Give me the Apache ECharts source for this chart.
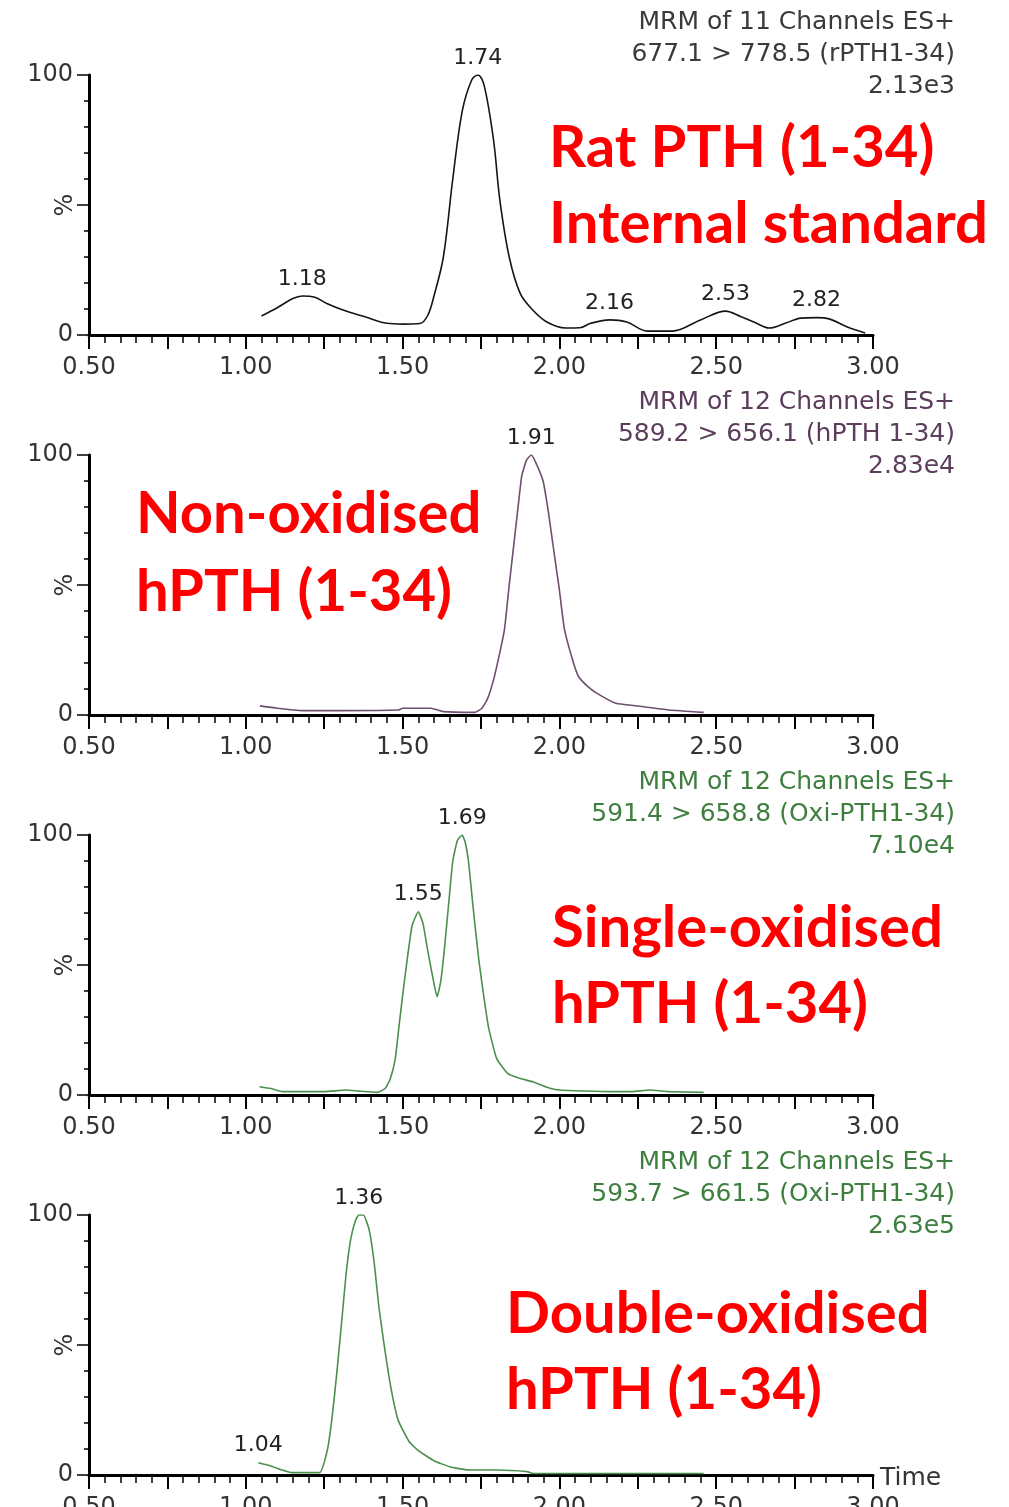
<!DOCTYPE html>
<html>
<head>
<meta charset="utf-8">
<script src="https://cdn.jsdelivr.net/npm/echarts@6/dist/echarts.min.js"></script>
<style>
  html, body { margin: 0; padding: 0; background: #fff; }
  #main { width: 1009px; height: 1507px; }
</style>
</head>
<body>
<div id="main"></div>
<script>
// retention time (min) and relative intensity (%)
const ratTime = [1.05, 1.10, 1.15, 1.18, 1.22, 1.26, 1.31, 1.38, 1.45, 1.50, 1.555, 1.58, 1.60, 1.63, 1.66, 1.69, 1.72, 1.74, 1.76, 1.79, 1.81, 1.84, 1.875, 1.915, 1.96, 2.02, 2.065, 2.10, 2.16, 2.215, 2.28, 2.36, 2.45, 2.53, 2.58, 2.62, 2.67, 2.72, 2.77, 2.82, 2.86, 2.92, 2.975]
const ratPct = [7.3, 10.5, 14, 15, 14.5, 12, 9.6, 7, 4.5, 4.2, 4.4, 7.5, 15, 30, 60, 86, 98, 100, 96, 75, 52, 30, 16, 9.6, 5, 2.7, 2.8, 4.5, 5.8, 5, 1.5, 1.5, 5.8, 9.2, 7, 5, 2.7, 4.5, 6.5, 6.7, 6.2, 3, 0.8]
const ratPeaks = ['1.18', '1.74', '2.16', '2.53', '2.82']

const nonOxTime = [1.045, 1.10, 1.18, 1.30, 1.486, 1.50, 1.59, 1.63, 1.73, 1.753, 1.77, 1.79, 1.81, 1.825, 1.84, 1.856, 1.87, 1.88, 1.895, 1.91, 1.925, 1.948, 1.965, 1.98, 2.0, 2.016, 2.04, 2.06, 2.09, 2.12, 2.18, 2.27, 2.35, 2.46]
const nonOxPct = [3.5, 2.6, 1.7, 1.7, 1.9, 2.6, 2.6, 1.3, 1.0, 2.6, 6, 13.5, 24, 33, 50, 67, 82, 92, 98, 100, 97, 90, 78, 65, 48, 33, 22, 15, 11, 8.3, 4.5, 3.2, 1.9, 1.0]
const nonOxPeaks = ['1.91']

const singleOxTime = [1.044, 1.08, 1.116, 1.25, 1.32, 1.36, 1.42, 1.445, 1.46, 1.476, 1.49, 1.507, 1.53, 1.55, 1.565, 1.578, 1.595, 1.61, 1.622, 1.634, 1.648, 1.66, 1.675, 1.69, 1.70, 1.71, 1.725, 1.743, 1.76, 1.774, 1.80, 1.835, 1.87, 1.917, 1.96, 2.0, 2.164, 2.23, 2.287, 2.35, 2.46]
const singleOxPct = [3.2, 2.5, 1.3, 1.3, 1.9, 1.5, 1.0, 2.6, 6, 13.5, 28, 45, 65, 70.5, 66, 57, 46, 37.8, 44, 57, 75, 90, 98, 100, 97, 90, 72, 52, 37, 26, 14, 8.3, 6.5, 5, 3, 1.9, 1.3, 1.3, 1.9, 1.3, 1.0]
const singleOxPeaks = ['1.55', '1.69']

const doubleOxTime = [1.04, 1.08, 1.116, 1.147, 1.235, 1.26, 1.275, 1.29, 1.305, 1.32, 1.335, 1.35, 1.36, 1.375, 1.394, 1.41, 1.424, 1.44, 1.455, 1.47, 1.486, 1.52, 1.548, 1.60, 1.65, 1.71, 1.80, 1.897, 1.917, 2.46]
const doubleOxPct = [4.7, 3.5, 1.9, 0.9, 0.9, 9.6, 22, 39, 58, 77.6, 91, 98, 100, 100, 94, 81, 65, 51, 39, 29, 21, 13, 9.6, 5.5, 3.2, 1.9, 1.9, 1.3, 0.6, 0.6]
const doubleOxPeaks = ['1.04', '1.36']

const xTicks = ['0.50', '1.00', '1.50', '2.00', '2.50', '3.00']

const panels = [
  { time: ratTime, pct: ratPct, peaks: ratPeaks, line: '#151515', smooth: 0.35,
    head: ['MRM of 11 Channels ES+', '677.1 > 778.5 (rPTH1-34)', '2.13e3'], headColor: '#3a3a3a',
    note: ['Rat PTH (1-34)', 'Internal standard'], noteX: 549, noteY: [148, 224] },
  { time: nonOxTime, pct: nonOxPct, peaks: nonOxPeaks, line: '#6e4f6e', smooth: 0.15,
    head: ['MRM of 12 Channels ES+', '589.2 > 656.1 (hPTH 1-34)', '2.83e4'], headColor: '#5c3d5c',
    note: ['Non-oxidised', 'hPTH (1-34)'], noteX: 136, noteY: [514, 592] },
  { time: singleOxTime, pct: singleOxPct, peaks: singleOxPeaks, line: '#4c8f4c', smooth: 0.15,
    head: ['MRM of 12 Channels ES+', '591.4 > 658.8 (Oxi-PTH1-34)', '7.10e4'], headColor: '#3e7e3e',
    note: ['Single-oxidised', 'hPTH (1-34)'], noteX: 552, noteY: [928, 1004] },
  { time: doubleOxTime, pct: doubleOxPct, peaks: doubleOxPeaks, line: '#4c8f4c', smooth: 0.15,
    head: ['MRM of 12 Channels ES+', '593.7 > 661.5 (Oxi-PTH1-34)', '2.63e5'], headColor: '#3e7e3e',
    note: ['Double-oxidised', 'hPTH (1-34)'], noteX: 506, noteY: [1314, 1390] }
]

const gridTop = [75, 455, 835, 1215]
const axisFont = 'DejaVu Sans'

const grid = [], xAxis = [], yAxis = [], series = [], graphic = []

panels.forEach((p, i) => {
  // outerBoundsMode none: keep the grid where it is even if labels run off the bottom
  grid.push({ left: 89, width: 784, top: gridTop[i], height: 260, outerBoundsMode: 'none', containLabel: false })
  xAxis.push({
    type: 'value', gridIndex: i, min: 0.5, max: 3.0, interval: 0.25,
    axisLine: { show: true, lineStyle: { color: '#000', width: 3 } },
    axisTick: { show: true, length: 14, lineStyle: { color: '#000', width: 2 } },
    minorTick: { show: true, splitNumber: 5, length: 8, lineStyle: { color: '#000', width: 1.5 } },
    splitLine: { show: false },
    axisLabel: {
      margin: 21, color: '#333', fontSize: 24, fontFamily: axisFont,
      formatter: v => {
        const s = v.toFixed(2)
        return xTicks.includes(s) ? s : ''
      }
    }
  })
  yAxis.push({
    type: 'value', gridIndex: i, min: 0, max: 100, interval: 50,
    axisLine: { show: true, lineStyle: { color: '#000', width: 3 } },
    axisTick: { show: true, length: 12, lineStyle: { color: '#000', width: 1.5 } },
    minorTick: { show: true, splitNumber: 5, length: 5, lineStyle: { color: '#000', width: 1.5 } },
    splitLine: { show: false },
    axisLabel: {
      margin: 16, color: '#333', fontSize: 24, fontFamily: axisFont,
      formatter: v => (v === 50 ? '' : String(v))
    }
  })
  const data = p.time.map((t, k) => [t, p.pct[k]])
  const marks = p.peaks.map(lab => {
    const k = p.time.findIndex(t => Math.abs(t - parseFloat(lab)) < 1e-9)
    return { coord: [p.time[k], p.pct[k]], name: lab }
  })
  series.push({
    type: 'line', xAxisIndex: i, yAxisIndex: i, data: data,
    smooth: p.smooth, symbol: 'none', silent: true,
    lineStyle: { color: p.line, width: 1.6 },
    markPoint: {
      symbol: 'circle', symbolSize: 2, silent: true,
      itemStyle: { color: 'rgba(0,0,0,0)' },
      label: { show: true, position: 'top', distance: 5, formatter: '{b}', color: '#222', fontSize: 22, fontFamily: axisFont },
      data: marks
    }
  })

  // y axis title
  graphic.push({
    type: 'text', x: 66, y: gridTop[i] + 130, rotation: Math.PI / 2,
    style: { text: '%', fill: '#333', font: '24px "DejaVu Sans"', textAlign: 'center', textVerticalAlign: 'middle' }
  })
  // instrument header, right aligned
  p.head.forEach((txt, j) => {
    graphic.push({
      type: 'text', x: 955, y: gridTop[i] - 53 + j * 32,
      style: { text: txt, fill: p.headColor, font: '25px "DejaVu Sans"', textAlign: 'right', textVerticalAlign: 'middle' }
    })
  })
  // red annotation
  p.note.forEach((txt, j) => {
    graphic.push({
      type: 'text', x: p.noteX, y: p.noteY[j],
      style: { text: txt, fill: '#ff0000', font: 'bold 58px Lato', textAlign: 'left', textVerticalAlign: 'middle' }
    })
  })
})

graphic.push({
  type: 'text', x: 880, y: 1478,
  style: { text: 'Time', fill: '#333', font: '25px "DejaVu Sans"', textAlign: 'left', textVerticalAlign: 'middle' }
})

const chart = echarts.init(document.getElementById('main'))
chart.setOption({
  animation: false,
  backgroundColor: '#fff',
  grid: grid,
  xAxis: xAxis,
  yAxis: yAxis,
  series: series,
  graphic: graphic
})
</script>
</body>
</html>
